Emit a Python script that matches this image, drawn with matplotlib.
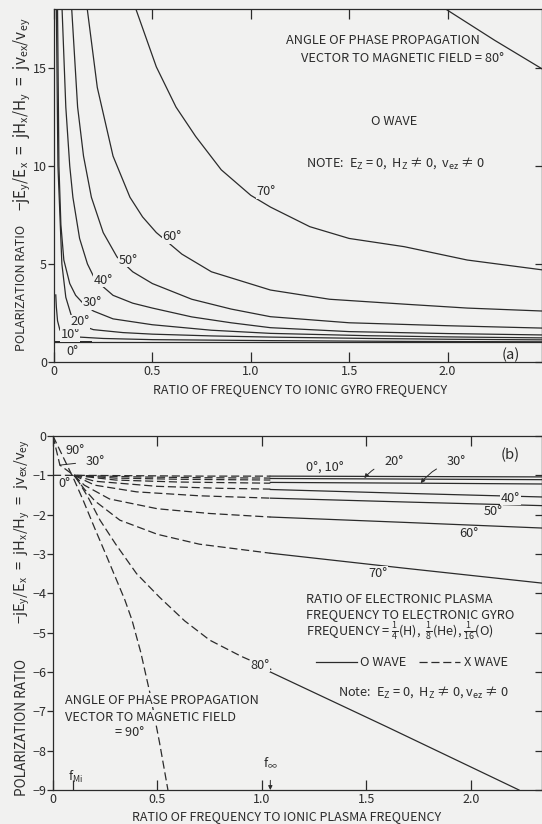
import matplotlib.pyplot as plt

plt.rcParams['font.family'] = ['Noto Sans CJK JP', 'DejaVu Sans']
plt.rcParams['mathtext.fontset'] = 'dejavusans'
plt.rcParams['axes.unicode_minus'] = False

BG = '#f1f1f0'
INK = '#2b2b2b'

# ---------------- panel (a): O wave, curves
a_x0 = [0.0, 2.48]
a_y0 = [1.0, 1.0]
a_x10 = [0.009, 0.012, 0.018, 0.03, 0.05, 0.08, 0.13, 0.25, 0.5, 1.1, 1.8, 2.48]
a_y10 = [3.42, 2.8, 2.1, 1.63, 1.45, 1.35, 1.27, 1.2, 1.14, 1.09, 1.05, 1.03]
a_x20 = [0.012, 0.02, 0.04, 0.06, 0.09, 0.13, 0.2, 0.35, 0.5, 0.8, 1.1, 1.6, 2.0, 2.48]
a_y20 = [18.0, 10.0, 5.0, 3.3, 2.3, 1.9, 1.65, 1.5, 1.42, 1.33, 1.27, 1.2, 1.16, 1.13]
a_x30 = [0.018, 0.025, 0.035, 0.05, 0.08, 0.11, 0.147, 0.2, 0.3, 0.5, 0.8, 1.1, 1.6, 2.0, 2.48]
a_y30 = [18.0, 10.0, 7.0, 5.2, 4.0, 3.4, 3.0, 2.6, 2.2, 1.9, 1.62, 1.46, 1.34, 1.28, 1.23]
a_x40 = [0.041, 0.06, 0.08, 0.096, 0.13, 0.17, 0.21, 0.3, 0.4, 0.5, 0.7, 0.9, 1.1, 1.5, 2.0, 2.48]
a_y40 = [18.0, 13.0, 10.0, 8.4, 6.3, 5.0, 4.18, 3.4, 3.0, 2.75, 2.3, 2.0, 1.75, 1.55, 1.45, 1.38]
a_x50 = [0.09, 0.12, 0.15, 0.19, 0.25, 0.32, 0.4, 0.5, 0.7, 0.9, 1.1, 1.5, 2.0, 2.48]
a_y50 = [18.0, 13.0, 10.5, 8.4, 6.6, 5.36, 4.6, 4.0, 3.2, 2.7, 2.31, 2.0, 1.85, 1.73]
a_x60 = [0.169, 0.22, 0.3, 0.386, 0.45, 0.52, 0.65, 0.8, 1.1, 1.4, 1.78, 2.1, 2.48]
a_y60 = [18.0, 14.0, 10.5, 8.4, 7.4, 6.6, 5.5, 4.6, 3.67, 3.2, 2.95, 2.75, 2.6]
a_x70 = [0.416, 0.52, 0.62, 0.72, 0.85, 1.0, 1.1, 1.3, 1.5, 1.78, 2.1, 2.48]
a_y70 = [18.0, 15.05, 13.0, 11.5, 9.8, 8.5, 7.9, 6.9, 6.3, 5.88, 5.2, 4.7]
a_x80 = [1.99, 2.24, 2.48]
a_y80 = [18.0, 16.4, 14.95]

a_curves = [(a_x0, a_y0), (a_x10, a_y10), (a_x20, a_y20), (a_x30, a_y30),
            (a_x40, a_y40), (a_x50, a_y50), (a_x60, a_y60), (a_x70, a_y70),
            (a_x80, a_y80)]
a_labels = ['0°', '10°', '20°', '30°', '40°', '50°', '60°', '70°']
a_lab_x = [0.091, 0.081, 0.132, 0.193, 0.249, 0.376, 0.60, 1.076]
a_lab_y = [0.56, 1.38, 2.04, 3.01, 4.18, 5.2, 6.38, 8.67]

# ---------------- panel (b): X wave (dashed, below f_inf) and O wave (solid)
b_dx0 = [0.0, 0.1, 0.4, 0.7, 1.04]
b_dy0 = [-1.0, -1.0, -1.01, -1.02, -1.02]
b_dx10 = [0.1, 0.4, 0.7, 1.04]
b_dy10 = [-1.0, -1.04, -1.06, -1.07]
b_dx20 = [0.1, 0.3, 0.6, 1.04]
b_dy20 = [-1.0, -1.07, -1.1, -1.12]
b_dx30 = [0.0, 0.033, 0.1, 0.3, 0.6, 1.04]
b_dy30 = [0.0, -0.74, -1.0, -1.12, -1.17, -1.2]
b_dx40 = [0.1, 0.2, 0.5, 0.8, 1.04]
b_dy40 = [-1.0, -1.15, -1.28, -1.33, -1.35]
b_dx50 = [0.1, 0.2, 0.4, 0.7, 1.04]
b_dy50 = [-1.0, -1.25, -1.42, -1.52, -1.58]
b_dx60 = [0.1, 0.15, 0.27, 0.5, 0.75, 1.04]
b_dy60 = [-1.0, -1.25, -1.6, -1.85, -1.97, -2.06]
b_dx70 = [0.1, 0.15, 0.2, 0.32, 0.5, 0.7, 1.04]
b_dy70 = [-1.0, -1.35, -1.65, -2.14, -2.5, -2.75, -2.98]
b_dx80 = [0.11, 0.167, 0.225, 0.3, 0.4, 0.51, 0.63, 0.75, 0.9, 1.05]
b_dy80 = [-1.05, -1.55, -2.14, -2.75, -3.5, -4.1, -4.7, -5.19, -5.6, -5.95]
b_dx90 = [0.0, 0.05, 0.1, 0.144, 0.2, 0.26, 0.344, 0.378, 0.42, 0.464, 0.51, 0.55]
b_dy90 = [0.0, -0.55, -1.1, -1.63, -2.35, -3.1, -4.17, -4.68, -5.5, -6.54, -7.8, -9.0]

b_sx0 = [1.04, 2.34]
b_sy0 = [-1.02, -1.04]
b_sx20 = [1.04, 1.49, 2.34]
b_sy20 = [-1.08, -1.09, -1.11]
b_sx30 = [1.04, 1.76, 2.34]
b_sy30 = [-1.18, -1.2, -1.22]
b_sx40 = [1.04, 1.7, 2.34]
b_sy40 = [-1.36, -1.46, -1.55]
b_sx50 = [1.04, 1.7, 2.34]
b_sy50 = [-1.58, -1.68, -1.77]
b_sx60 = [1.04, 1.7, 2.34]
b_sy60 = [-2.06, -2.2, -2.34]
b_sx70 = [1.04, 1.68, 2.34]
b_sy70 = [-2.98, -3.36, -3.74]
b_sx80 = [1.0, 1.6, 2.23]
b_sy80 = [-5.9, -7.4, -9.0]

b_dashed = [(b_dx0, b_dy0), (b_dx10, b_dy10), (b_dx20, b_dy20), (b_dx30, b_dy30),
            (b_dx40, b_dy40), (b_dx50, b_dy50), (b_dx60, b_dy60), (b_dx70, b_dy70),
            (b_dx80, b_dy80), (b_dx90, b_dy90)]
b_solid = [(b_sx0, b_sy0), (b_sx20, b_sy20), (b_sx30, b_sy30), (b_sx40, b_sy40),
           (b_sx50, b_sy50), (b_sx60, b_sy60), (b_sx70, b_sy70), (b_sx80, b_sy80)]
b_labels = ['40°', '50°', '60°', '70°', '80°']
b_lab_x = [2.19, 2.105, 1.99, 1.555, 0.99]
b_lab_y = [-1.58, -1.93, -2.47, -3.49, -5.83]

f_mi = 0.096
f_inf = 1.04

DASH = (0, (6.5, 3))
LW = 0.9
FS = 9.2
TFS = 9

fig = plt.figure(figsize=(5.42, 8.24), dpi=100, facecolor=BG)
ax1 = fig.add_axes([54 / 542, 1 - 362 / 824, 1 - 54 / 542, 353 / 824], facecolor=BG)
ax2 = fig.add_axes([53 / 542, 1 - 790 / 824, 1 - 53 / 542, 354 / 824], facecolor=BG)


def style(ax, xmax, ymin, ymax, yticks):
    ax.set_xlim(0, xmax)
    ax.set_ylim(ymin, ymax)
    ax.set_xticks([0, 0.5, 1.0, 1.5, 2.0])
    ax.set_xticklabels(['0', '0.5', '1.0', '1.5', '2.0'])
    ax.set_yticks(yticks)
    ax.set_yticklabels([str(t).replace('-', '−') for t in yticks])
    for s in ax.spines.values():
        s.set_color(INK)
        s.set_linewidth(LW)
    ax.tick_params(axis='x', direction='in', top=True, length=7, width=LW,
                   colors=INK, labelsize=TFS, pad=2)
    ax.tick_params(axis='y', direction='out', right=False, length=4, width=LW,
                   colors=INK, labelsize=TFS, pad=1)
    sec = ax.secondary_yaxis('right')
    sec.set_yticks(yticks)
    sec.tick_params(direction='in', length=5, width=LW, colors=INK, labelright=False)
    sec.spines['right'].set_color(INK)


def label(ax, x, y, t, **kw):
    ax.text(x, y, t, fontsize=FS, color=INK, ha='center', va='center',
            bbox=dict(boxstyle='square,pad=0.05', fc=BG, ec='none'), **kw)


# ---- panel (a)
for xs, ys in a_curves:
    ax1.plot(xs, ys, color=INK, lw=LW)
ax1.plot([0.0, 0.19], [1.04, 1.04], color=INK, lw=LW * 1.6)
for t, x, y in zip(a_labels, a_lab_x, a_lab_y):
    label(ax1, x, y, t)
style(ax1, 2.48, 0, 18, [0, 5, 10, 15])

ax1.text(1.67, 16.4, 'ANGLE OF PHASE PROPAGATION', fontsize=FS, color=INK,
         ha='center', va='center')
ax1.text(1.77, 15.5, 'VECTOR TO MAGNETIC FIELD = 80°', fontsize=FS, color=INK,
         ha='center', va='center')
ax1.text(1.726, 12.24, 'O WAVE', fontsize=FS, color=INK, ha='center', va='center')
ax1.text(1.28, 10.15,
         r'NOTE:  E$\mathregular{_Z}$ = 0,  H$\mathregular{_Z}$ ≠ 0,  v$\mathregular{_{ez}}$ ≠ 0',
         fontsize=FS, color=INK, ha='left', va='center')
ax1.text(2.32, 0.36, '(a)', fontsize=FS + 1.5, color=INK, ha='center', va='center')

# ---- panel (b)
for xs, ys in b_dashed:
    ax2.plot(xs, ys, color=INK, lw=LW, ls=DASH)
for xs, ys in b_solid:
    ax2.plot(xs, ys, color=INK, lw=LW)
for t, x, y in zip(b_labels, b_lab_x, b_lab_y):
    label(ax2, x, y, t)
style(ax2, 2.34, -9, 0, [0, -1, -2, -3, -4, -5, -6, -7, -8, -9])
ax2.set_xticks([f_mi], minor=True)
ax2.tick_params(axis='x', which='minor', direction='in', top=False, bottom=True,
                length=7, width=LW, colors=INK)

arrow = dict(arrowstyle='-|>', color=INK, lw=0.7, connectionstyle='arc3,rad=0.2',
             shrinkA=6, shrinkB=0, mutation_scale=6)
ax2.text(1.30, -0.81, '0°, 10°', fontsize=FS, color=INK, ha='center', va='center')
ax2.annotate('20°', xy=(1.49, -1.07), xytext=(1.63, -0.66), fontsize=FS, color=INK,
             ha='center', va='center', arrowprops=arrow)
ax2.annotate('30°', xy=(1.76, -1.2), xytext=(1.93, -0.66), fontsize=FS, color=INK,
             ha='center', va='center', arrowprops=arrow)
ax2.text(2.19, -0.48, '(b)', fontsize=FS + 1.5, color=INK, ha='center', va='center')
ax2.text(0.105, -0.36, '90°', fontsize=FS, color=INK, ha='center', va='center')
ax2.annotate('30°', xy=(0.033, -0.74), xytext=(0.2, -0.64), fontsize=FS, color=INK,
             ha='center', va='center',
             arrowprops=dict(arrowstyle='-', color=INK, lw=0.7, shrinkA=5, shrinkB=0))
ax2.text(0.053, -1.22, '0°', fontsize=FS, color=INK, ha='center', va='center')

ax2.text(1.21, -4.15, 'RATIO OF ELECTRONIC PLASMA', fontsize=FS, color=INK,
         ha='left', va='center')
ax2.text(1.21, -4.53, 'FREQUENCY TO ELECTRONIC GYRO', fontsize=FS, color=INK,
         ha='left', va='center')
ax2.text(1.21, -4.97,
         r'FREQUENCY = $\mathregular{\frac{1}{4}}$(H),  $\mathregular{\frac{1}{8}}$(He), $\mathregular{\frac{1}{16}}$(O)',
         fontsize=FS, color=INK, ha='left', va='center')
h_o, = ax2.plot([], [], color=INK, lw=LW)
h_x, = ax2.plot([], [], color=INK, lw=LW, ls=DASH)
ax2.legend([h_o, h_x], ['O WAVE', 'X WAVE'], ncol=2, frameon=False, loc='center',
           bbox_to_anchor=(0.734, 0.359), fontsize=FS, handlelength=3.2,
           handletextpad=0.3, columnspacing=1.0, labelcolor=INK)
ax2.text(1.364, -6.51,
         r'Note:  E$\mathregular{_Z}$ = 0,  H$\mathregular{_Z}$ ≠ 0, v$\mathregular{_{ez}}$ ≠ 0',
         fontsize=FS, color=INK, ha='left', va='center')
ax2.text(0.057, -6.72, 'ANGLE OF PHASE PROPAGATION', fontsize=FS, color=INK,
         ha='left', va='center', bbox=dict(boxstyle='square,pad=0.05', fc=BG, ec='none'))
ax2.text(0.057, -7.15, 'VECTOR TO MAGNETIC FIELD', fontsize=FS, color=INK,
         ha='left', va='center', bbox=dict(boxstyle='square,pad=0.05', fc=BG, ec='none'))
ax2.text(0.368, -7.53, '= 90°', fontsize=FS, color=INK, ha='center', va='center')
ax2.text(f_mi + 0.01, -8.68, r'$\mathregular{f_{Mi}}$', fontsize=TFS, color=INK,
         ha='center', va='center')
ax2.annotate(r'$\mathregular{f_{\infty}}$', xy=(f_inf, -9.0), xytext=(f_inf, -8.3),
             fontsize=FS, color=INK, ha='center', va='center',
             arrowprops=dict(arrowstyle='-|>', color=INK, lw=0.7, shrinkA=6, shrinkB=0,
                             mutation_scale=6))

# axis titles
yform = r'$\mathregular{-jE_y/E_x\ =\ jH_x/H_y\ =\ jv_{ex}/v_{ey}}$'
fig.text(22 / 542, 1 - 288 / 824, 'POLARIZATION RATIO', rotation=90, fontsize=9,
         color=INK, ha='center', va='center')
fig.text(22 / 542, 1 - 114 / 824, yform, rotation=90, fontsize=11, color=INK,
         ha='center', va='center')
fig.text(22 / 542, 1 - 727 / 824, 'POLARIZATION RATIO', rotation=90, fontsize=9.8,
         color=INK, ha='center', va='center')
fig.text(22 / 542, 1 - 532 / 824, yform, rotation=90, fontsize=10.5, color=INK,
         ha='center', va='center')
fig.text(300 / 542, 1 - 390 / 824, 'RATIO OF FREQUENCY TO IONIC GYRO FREQUENCY',
         fontsize=9, color=INK, ha='center', va='center')
fig.text(287 / 542, 1 - 817 / 824, 'RATIO OF FREQUENCY TO IONIC PLASMA FREQUENCY',
         fontsize=9, color=INK, ha='center', va='center')

fig.savefig('out.png', dpi=100, facecolor=BG)
